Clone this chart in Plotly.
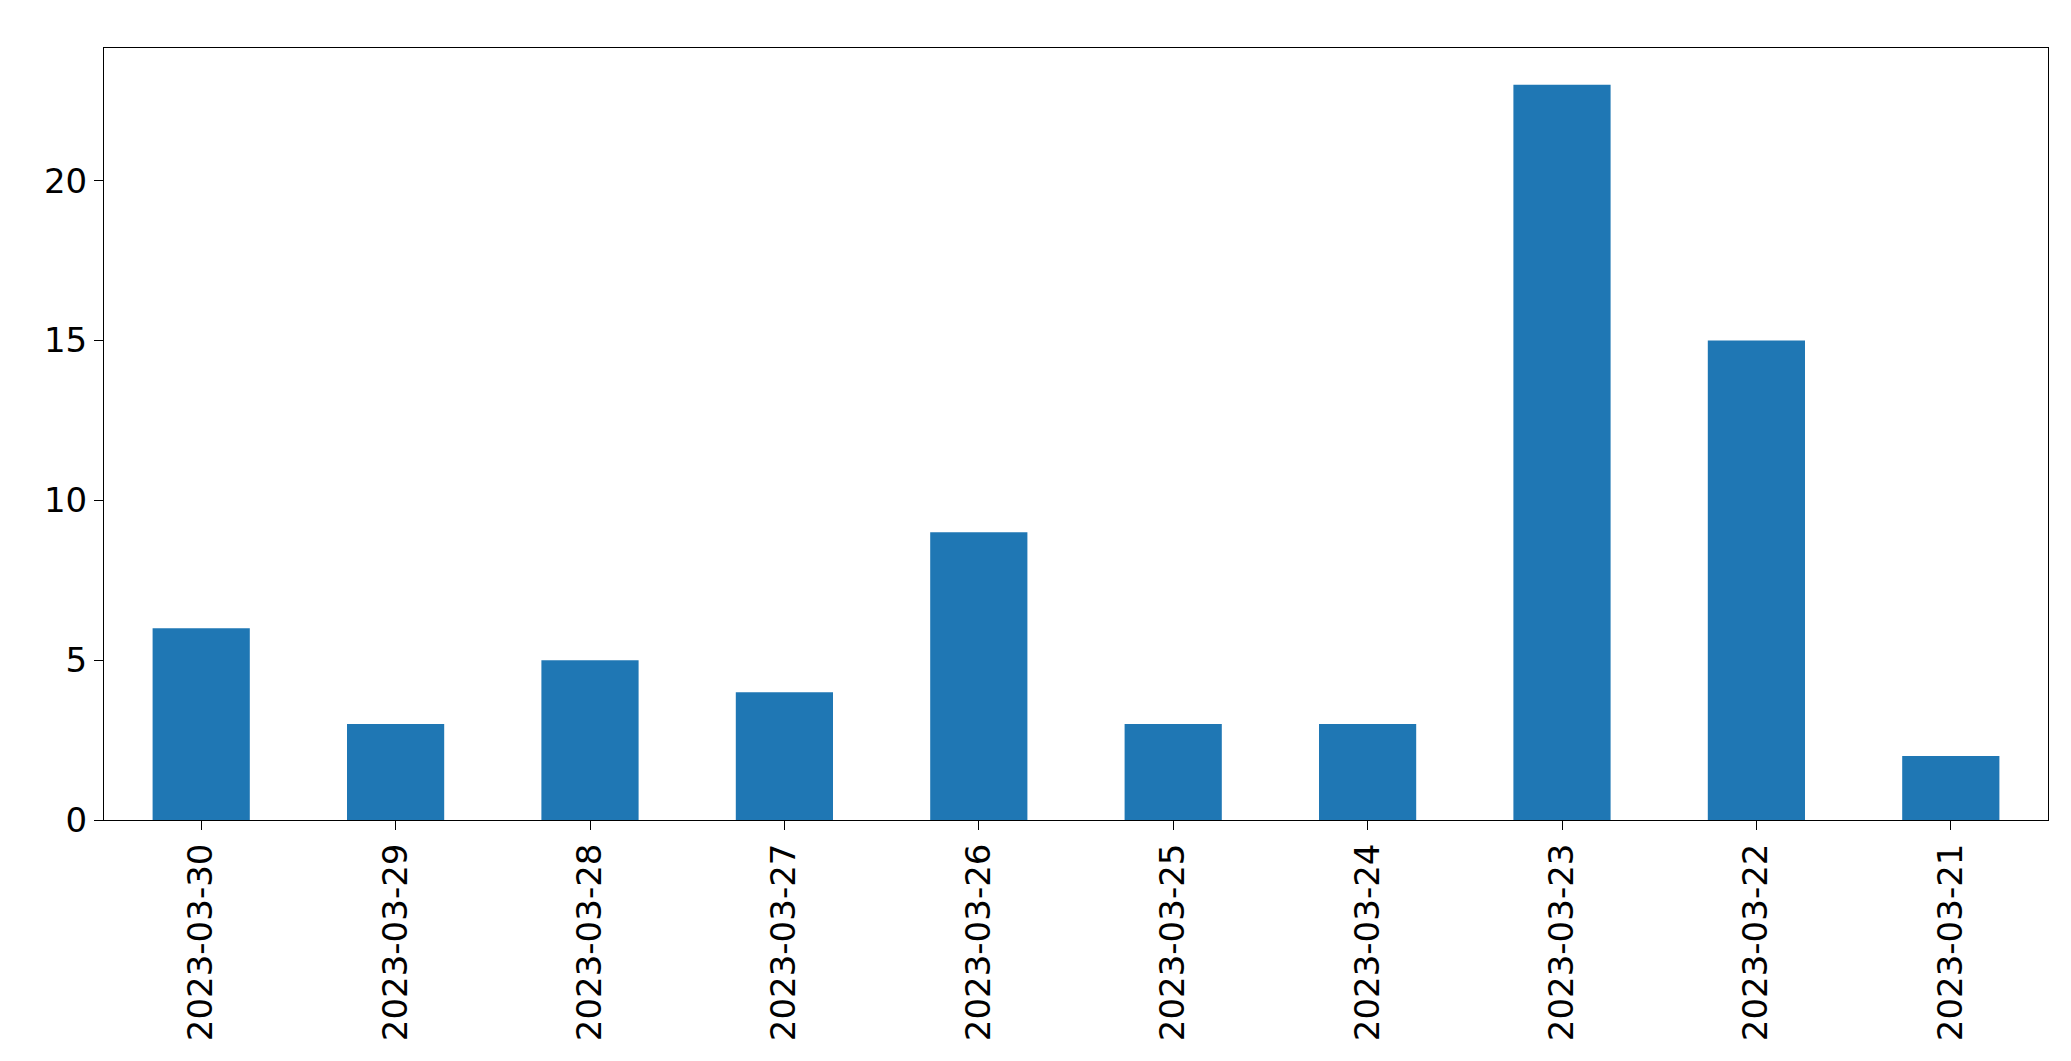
import plotly.graph_objects as go

dates = ["2023-03-30","2023-03-29","2023-03-28","2023-03-27","2023-03-26",
         "2023-03-25","2023-03-24","2023-03-23","2023-03-22","2023-03-21"]
counts = [6, 3, 5, 4, 9, 3, 3, 23, 15, 2]

fig = go.Figure(go.Bar(x=dates, y=counts, width=0.5, marker_color="#1f77b4", marker_line_width=0))
fig.update_layout(
    width=2071, height=1061, plot_bgcolor="white", paper_bgcolor="white",
    margin=dict(l=96, r=31, t=40, b=249), showlegend=False,
    font=dict(family="DejaVu Sans", size=34, color="black"),
)
fig.update_xaxes(type="category", tickangle=-90, showline=True, linecolor="black", mirror=True,
                 ticks="outside", ticklen=9, tickcolor="black", range=[-0.5, 9.5], showgrid=False)
fig.update_yaxes(range=[0, 24.15], tickvals=[0,5,10,15,20], showline=True, linecolor="black", mirror=True,
                 ticks="outside", ticklen=9, tickcolor="black", showgrid=False, zeroline=False)
fig.write_html("out.html")
